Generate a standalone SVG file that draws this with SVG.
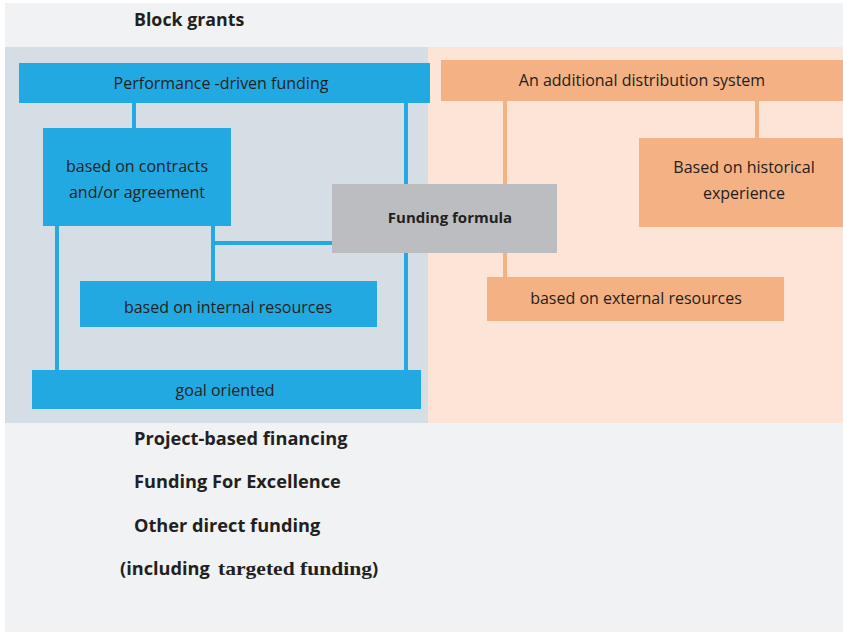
<svg xmlns="http://www.w3.org/2000/svg" width="843" height="634" viewBox="0 0 843 634">
<style>
.t{font-family:"Open Sans","Liberation Sans",sans-serif;fill:#231f20;font-size:16px;text-anchor:middle}
.b{font-weight:bold;font-size:15px}
.h{font-family:"Open Sans","Liberation Sans",sans-serif;fill:#231f20;font-size:18.2px;font-weight:bold}
.blue{fill:#23a9e1}
.org{fill:#f4b183}
.lb{stroke:#23a9e1;stroke-width:4;fill:none}
.lo{stroke:#f4b183;stroke-width:4;fill:none}
</style>
<rect x="0" y="0" width="843" height="634" fill="#ffffff"/>
<rect x="5" y="3" width="838" height="629" fill="#f1f2f4"/>
<rect x="5" y="47" width="423" height="376" fill="#d6dee5"/>
<rect x="428" y="47" width="415" height="376" fill="#fce4d6"/>
<text class="h" x="134" y="26" style="font-size:17.8px">Block grants</text>
<g id="connectors">
<line class="lb" x1="134" y1="103" x2="134" y2="128"/>
<line class="lb" x1="406" y1="103" x2="406" y2="184"/>
<line class="lb" x1="406" y1="253" x2="406" y2="370"/>
<line class="lb" x1="57" y1="226" x2="57" y2="370"/>
<line class="lb" x1="213" y1="226" x2="213" y2="281"/>
<line class="lb" x1="211" y1="243" x2="332" y2="243"/>
<line class="lo" x1="505" y1="101" x2="505" y2="184"/>
<line class="lo" x1="505" y1="253" x2="505" y2="277"/>
<line class="lo" x1="757" y1="101" x2="757" y2="138"/>
</g>
<g id="perf"><rect class="blue" x="19" y="63" width="411" height="40"/><text class="t" x="221" y="89">Performance -driven funding</text></g>
<g id="contracts"><rect class="blue" x="43" y="128" width="188" height="98"/><text class="t" x="137" y="172">based on contracts</text><text class="t" x="137" y="198">and/or agreement</text></g>
<g id="internal"><rect class="blue" x="80" y="281" width="297" height="46"/><text class="t" x="228" y="313">based on internal resources</text></g>
<g id="goal"><rect class="blue" x="32" y="370" width="389" height="39"/><text class="t" x="225" y="396">goal oriented</text></g>
<g id="formula"><rect x="332" y="184" width="225" height="69" fill="#bcbdc1"/><text class="t b" x="450" y="223">Funding formula</text></g>
<g id="additional"><rect class="org" x="441" y="60" width="402" height="41"/><text class="t" x="642" y="86">An additional distribution system</text></g>
<g id="historical"><rect class="org" x="639" y="138" width="204" height="89"/><text class="t" x="744" y="173">Based on historical</text><text class="t" x="744" y="199">experience</text></g>
<g id="external"><rect class="org" x="487" y="277" width="297" height="44"/><text class="t" x="636" y="304">based on external resources</text></g>
<text class="h" x="134" y="445">Project-based financing</text>
<text class="h" x="134" y="488">Funding For Excellence</text>
<text class="h" x="134" y="532">Other direct funding</text>
<text class="h" x="120" y="575">(including<tspan x="218" style="font-family:'Liberation Serif',serif;font-size:19px" textLength="154" lengthAdjust="spacingAndGlyphs">targeted funding</tspan>)</text>
</svg>
